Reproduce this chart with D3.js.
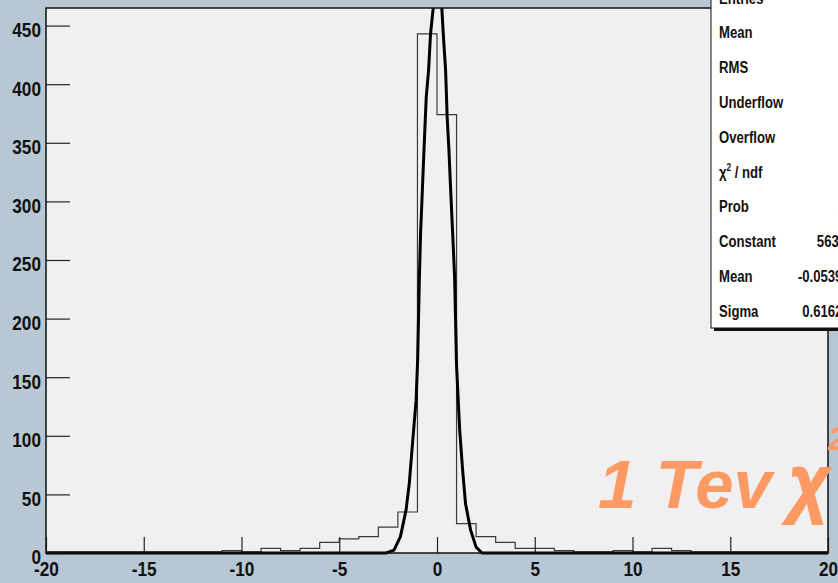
<!DOCTYPE html>
<html>
<head>
<meta charset="utf-8">
<script src="https://cdn.jsdelivr.net/npm/d3@7"></script>
<style>
  body { margin: 0; background: #b7c8d4; }
  svg { display: block; }
  .lbl { font-family: "Liberation Sans", Arial, sans-serif; font-weight: bold; }
  .big { font-family: "Liberation Sans", Arial, sans-serif; font-weight: bold; font-style: italic; fill: #fd9a63; }
</style>
</head>
<body>
<div id="graph"></div>
<script>
// histogram bins (low edge, width 1) and counts
const binLow = [-20,-19,-18,-17,-16,-15,-14,-13,-12,-11,-10,-9,-8,-7,-6,-5,-4,-3,-2,-1,
                0,1,2,3,4,5,6,7,8,9,10,11,12,13,14,15,16,17,18,19];
const counts = [1,1,1,1,1,1,1,1,1,2,1,4,2,4,9,12,14,22,35,443,
                374,25,14,9,4,4,2,1,1,2,1,4,2,1,1,1,1,1,1,1];

// fitted curve, points
const fitX = [-20,-2.6,-2.2,-1.87,-1.58,-1.42,-1.25,-1.07,-0.99,-0.9,-0.84,-0.77,-0.7,-0.63,-0.55,-0.43,-0.33,-0.2,
              0.03,0.25,0.32,0.44,0.52,0.61,0.69,0.8,0.9,1.0,1.16,1.31,1.46,1.72,2.0,2.3,20];
const fitY = [0,0,2.5,14,37,59,94,130,165,236,273,301,330,358,389,412,443,464,
              525,464,443,412,372,344,313,273,236,160,105,71,42,19.5,5,0,0];

// axis tick labels
const xMajorTicks = [-20,-15,-10,-5,0,5,10,15,20];
const yMajorTicks = [0,50,100,150,200,250,300,350,400,450];

// stats box
const statNames = ["Entries","Mean","RMS","Underflow","Overflow","χ2 / ndf","Prob","Constant","Mean","Sigma"];
const statValues = ["1500","-0.0786","1.872","0","0","172.4 / 17","2.617e-29","563.4 ± 20.75","-0.0539 ± 0.0173","0.6162 ± 0.0153"];

const W = 838, H = 583;
const plot = {left: 46, right: 828, top: 8, bottom: 553};
const narrow = 0.82; // condensed look of the original labels

const x = d3.scaleLinear().domain([-20, 20]).range([plot.left, plot.right]);
const y = d3.scaleLinear().domain([0, 465]).range([plot.bottom, plot.top]);

const svg = d3.select("#graph").append("svg")
    .attr("width", W)
    .attr("height", H);

svg.append("defs").append("clipPath").attr("id", "clip")
  .append("rect")
    .attr("x", plot.left).attr("y", plot.top)
    .attr("width", plot.right - plot.left)
    .attr("height", plot.bottom - plot.top + 3);

svg.append("rect")
    .attr("x", plot.left).attr("y", plot.top)
    .attr("width", plot.right - plot.left)
    .attr("height", plot.bottom - plot.top)
    .attr("fill", "#f0f0f0");

// histogram outline
const histPts = [[-20, 0]];
binLow.forEach((lo, i) => {
  histPts.push([lo, counts[i]]);
  histPts.push([lo + 1, counts[i]]);
});
histPts.push([20, 0]);

const line = d3.line().x(d => x(d[0])).y(d => y(d[1]));

svg.append("path")
    .attr("d", line(histPts))
    .attr("fill", "none")
    .attr("stroke", "#3a3a3a")
    .attr("stroke-width", 1.2);

// fit curve
svg.append("path")
    .attr("clip-path", "url(#clip)")
    .attr("d", line(fitX.map((v, i) => [v, fitY[i]])))
    .attr("fill", "none")
    .attr("stroke", "#000")
    .attr("stroke-width", 3)
    .attr("stroke-linejoin", "round");

// axes, ticks pointing inwards
const gx = svg.append("g").attr("transform", "translate(0," + plot.bottom + ")");
gx.call(d3.axisBottom(x).tickValues(d3.range(-20, 21)).tickSize(-9).tickFormat(""));
gx.call(d3.axisBottom(x).tickValues(xMajorTicks).tickSize(-16).tickPadding(8).tickFormat(d => String(d)));

const gy = svg.append("g").attr("transform", "translate(" + plot.left + ",0)");
gy.call(d3.axisLeft(y).tickValues(d3.range(0, 461, 10)).tickSize(-12).tickFormat(""));
gy.call(d3.axisLeft(y).tickValues(yMajorTicks).tickSize(-24).tickPadding(5).tickFormat(d => String(d)));

svg.selectAll(".domain").remove();
svg.selectAll(".tick line").attr("stroke", "#222").attr("stroke-width", 1.2);
svg.selectAll(".tick text")
    .attr("class", "lbl")
    .attr("font-size", 21)
    .attr("fill", "#111")
    .attr("transform", "scale(" + narrow + ",1)");
gy.selectAll(".tick text").attr("x", -5 / narrow).attr("dy", "0.52em");

// frame
svg.append("rect")
    .attr("x", plot.left).attr("y", plot.top)
    .attr("width", plot.right - plot.left)
    .attr("height", plot.bottom - plot.top)
    .attr("fill", "none")
    .attr("stroke", "#111")
    .attr("stroke-width", 1.5);

// stats box
const box = {x: 711, y: -30, w: 220, bottom: 328};
svg.append("rect")
    .attr("x", box.x + 3).attr("y", box.y + 3)
    .attr("width", box.w).attr("height", box.bottom - box.y)
    .attr("fill", "#111");
svg.append("rect")
    .attr("x", box.x).attr("y", box.y)
    .attr("width", box.w).attr("height", box.bottom - box.y)
    .attr("fill", "#fff")
    .attr("stroke", "#111")
    .attr("stroke-width", 1);

const row = d3.scaleLinear().domain([0, 1]).range([3.5, 38.3]);

const names = svg.selectAll(".sname")
  .data(statNames)
  .enter().append("text")
    .attr("class", "lbl")
    .attr("transform", (d, i) => "translate(" + (box.x + 8) + "," + row(i) + ") scale(" + narrow + ",1)")
    .attr("font-size", 16)
    .attr("fill", "#111");
names.each(function(d) {
  const t = d3.select(this);
  if (d.startsWith("χ2")) {
    t.append("tspan").text("χ");
    t.append("tspan").attr("font-size", 10).attr("dy", -7).text("2");
    t.append("tspan").attr("dy", 7).text(" / ndf");
  } else {
    t.text(d);
  }
});

svg.selectAll(".sval")
  .data(statValues)
  .enter().append("text")
    .attr("class", "lbl")
    .attr("transform", (d, i) => "translate(897," + row(i) + ") scale(" + narrow + ",1)")
    .attr("text-anchor", "end")
    .attr("font-size", 16)
    .attr("fill", "#111")
    .text(d => d);

// orange label
svg.append("text")
    .attr("class", "big")
    .attr("x", 598)
    .attr("y", 508)
    .attr("font-size", 69)
    .text("1 Tev");
svg.append("text")
    .attr("class", "big")
    .attr("transform", "translate(789,508) scale(0.92,1)")
    .attr("font-size", 76)
    .attr("stroke", "#fd9a63")
    .attr("stroke-width", 2)
    .text("χ");
svg.append("text")
    .attr("class", "big")
    .attr("x", 828)
    .attr("y", 450)
    .attr("font-size", 34)
    .text("2");
</script>
</body>
</html>
